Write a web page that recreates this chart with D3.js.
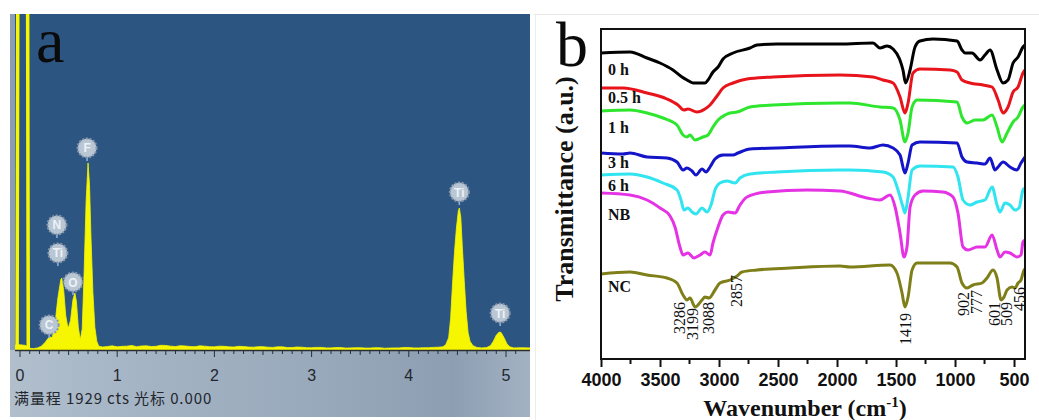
<!DOCTYPE html>
<html><head><meta charset="utf-8">
<script src="https://cdn.jsdelivr.net/npm/d3@7"></script>
<style>body{margin:0;background:#fff;}svg{display:block}</style>
</head><body>
<svg id="c" width="1039" height="420"></svg>
<script>
// ===== Panel a: EDS spectrum (keV, counts) =====
const edsTicks = [0, 1, 2, 3, 4, 5];
const edsFullScale = 1929;
const edsSpectrum = [
  [-0.05, 28], [0.0, 30], [0.06, 26], [0.10, 10], [0.14, 8], [0.18, 12], [0.22, 22], [0.26, 45], [0.29, 68],
  [0.31, 75], [0.33, 70], [0.36, 150], [0.39, 300], [0.42, 405], [0.43, 413], [0.45, 340],
  [0.47, 200], [0.49, 135], [0.50, 132], [0.52, 170], [0.545, 290], [0.565, 327], [0.58, 280],
  [0.60, 130], [0.62, 57], [0.64, 120], [0.66, 450], [0.68, 850], [0.70, 1074], [0.715, 950],
  [0.73, 650], [0.75, 330], [0.77, 130], [0.79, 50], [0.81, 22], [0.85, 17],
  [0.9, 20], [0.95, 24], [1.0, 18], [1.05, 21], [1.1, 22], [1.15, 26], [1.2, 19], [1.25, 23], [1.3, 24],
  [1.35, 20], [1.4, 21], [1.45, 27], [1.5, 26], [1.55, 22], [1.6, 20], [1.65, 25], [1.7, 23],
  [1.75, 20], [1.8, 19], [1.85, 24], [1.9, 22], [1.95, 19], [2.0, 18], [2.05, 22], [2.1, 21],
  [2.15, 18], [2.2, 17], [2.25, 21], [2.3, 20], [2.35, 17], [2.4, 16], [2.45, 19], [2.5, 19],
  [2.55, 16], [2.6, 15], [2.65, 18], [2.7, 18], [2.75, 14], [2.8, 14], [2.85, 17], [2.9, 16],
  [2.95, 13], [3.0, 13], [3.05, 15], [3.1, 15], [3.15, 12], [3.2, 12], [3.25, 14], [3.3, 14],
  [3.35, 11], [3.4, 12], [3.45, 13], [3.5, 13], [3.55, 11], [3.6, 11], [3.65, 13], [3.7, 13],
  [3.75, 10], [3.8, 11], [3.85, 12], [3.9, 12], [3.95, 14], [4.0, 14], [4.05, 12], [4.1, 12],
  [4.15, 13], [4.2, 13], [4.25, 15], [4.3, 16],
  [4.35, 18], [4.38, 30], [4.41, 70], [4.43, 180], [4.45, 380], [4.47, 560], [4.49, 700],
  [4.51, 800], [4.52, 815], [4.535, 760], [4.55, 600], [4.57, 400], [4.59, 220], [4.61, 100],
  [4.63, 50], [4.66, 25], [4.70, 15], [4.75, 12], [4.80, 14], [4.84, 25], [4.87, 50], [4.90, 85],
  [4.93, 103], [4.95, 100], [4.98, 70], [5.01, 35], [5.04, 18], [5.08, 12], [5.15, 13], [5.25, 12]
];
const edsZeroPeak = [[-0.03, 0], [-0.016, 4000], [0.072, 4000], [0.085, 0]];
const edsLabels = [
  { el: "C", e: 0.30, cts: 144 }, { el: "N", e: 0.38, cts: 718 }, { el: "Ti", e: 0.39, cts: 557 },
  { el: "O", e: 0.545, cts: 390 }, { el: "F", e: 0.69, cts: 1160 },
  { el: "Ti", e: 4.52, cts: 907 }, { el: "Ti", e: 4.94, cts: 212 }
];
const edsFooter = "满量程 1929 cts 光标 0.000";

// ===== Panel b: FTIR (wavenumber cm-1, transmittance a.u.) =====
const ftirTicks = [4000, 3500, 3000, 2500, 2000, 1500, 1000, 500];
const ftirNames = ["0 h", "0.5 h", "1 h", "3 h", "6 h", "NB", "NC"];
const ftir0h = [[4000,306],[3754,307],[3610,301],[3500,296],[3390,289],[3314,282],[3271,279],[3220,276],[3119,276],[3093,279],[3051,287],[3008,292],[2966,300],[2881,306],[2737,311],[2678,314],[2508,315],[1975,315],[1695,316],[1636,311],[1576,313],[1525,310],[1470,300],[1441,289],[1419,276],[1381,289],[1339,312],[1297,318],[1186,320],[983,318],[941,309],[915,306],[856,306],[788,299],[746,304],[703,309],[644,289],[593,276],[551,279],[508,296],[466,302],[424,312],[407,314]];
const ftir05h = [[4000,271],[3814,271],[3610,266],[3441,260],[3348,254],[3297,249],[3263,250],[3187,247],[3119,250],[3076,254],[3017,263],[2966,271],[2881,276],[2763,280],[2542,282],[1975,284],[1695,282],[1610,279],[1525,276],[1466,262],[1424,246],[1398,256],[1356,286],[1297,290],[1042,289],[983,287],[941,279],[873,276],[763,274],[686,272],[635,259],[593,246],[551,252],[508,267],[466,272],[424,286],[407,289]];
const ftir1h = [[4000,248],[3754,249],[3610,246],[3475,241],[3356,234],[3305,224],[3271,222],[3246,224],[3203,219],[3136,222],[3093,224],[3051,232],[3008,239],[2949,244],[2907,246],[2847,247],[2737,252],[2542,254],[1975,256],[1890,256],[1636,252],[1525,251],[1466,239],[1424,217],[1398,226],[1364,252],[1322,259],[983,257],[941,242],[898,236],[830,239],[763,239],[686,244],[644,232],[602,217],[559,226],[508,237],[466,242],[424,252],[407,254]];
const ftir3h = [[4000,206],[3814,205],[3754,206],[3610,202],[3441,201],[3356,197],[3305,189],[3271,191],[3229,188],[3195,184],[3144,190],[3110,187],[3076,192],[3034,200],[2966,204],[2881,204],[2839,206],[2737,210],[2508,211],[1975,213],[1890,213],[1720,211],[1610,214],[1525,211],[1466,204],[1424,186],[1398,196],[1364,214],[1297,217],[983,216],[941,202],[898,197],[813,196],[746,195],[703,201],[661,189],[635,192],[593,197],[534,192],[475,189],[441,196],[407,202]];
const ftir6h = [[4000,184],[3754,185],[3610,182],[3475,176],[3356,169],[3322,159],[3297,149],[3263,151],[3229,147],[3195,145],[3144,151],[3102,147],[3068,154],[3034,169],[2992,176],[2932,178],[2864,176],[2822,181],[2737,185],[2508,187],[1975,189],[1890,189],[1610,187],[1525,182],[1483,169],[1441,152],[1424,146],[1400,160],[1364,189],[1297,193],[1017,192],[975,182],[932,159],[873,154],[813,157],[746,159],[686,172],[644,154],[619,147],[576,156],[534,154],[492,149],[458,151],[424,169],[407,171]];
const ftirNB = [[4000,166],[3754,164],[3610,159],[3500,151],[3415,143],[3373,132],[3331,112],[3305,104],[3263,106],[3212,101],[3161,104],[3119,107],[3076,104],[3051,116],[3008,132],[2966,144],[2924,147],[2864,146],[2822,154],[2763,162],[2593,167],[2254,169],[1975,168],[1746,161],[1636,159],[1551,164],[1508,152],[1466,126],[1432,102],[1407,112],[1381,152],[1339,164],[1271,168],[1102,167],[1017,162],[975,146],[932,112],[890,109],[813,112],[746,112],[686,124],[644,109],[619,102],[576,107],[534,106],[475,102],[441,104],[424,117],[407,119]];
const ftirNC = [[4000,85],[3754,87],[3610,84],[3441,81],[3356,76],[3305,64],[3271,59],[3246,61],[3203,52],[3144,59],[3119,62],[3085,61],[3034,69],[2992,76],[2907,79],[2847,83],[2805,87],[2678,89],[2398,91],[1975,93],[1890,92],[1551,94],[1492,86],[1449,66],[1424,52],[1398,62],[1364,89],[1322,96],[1042,96],[983,92],[941,76],[898,71],[847,74],[771,76],[729,81],[678,89],[644,81],[610,59],[585,62],[559,69],[517,72],[492,71],[466,76],[441,79],[415,89],[407,90]];
const ftirSeries = [ftir0h, ftir05h, ftir1h, ftir3h, ftir6h, ftirNB, ftirNC];
const ftirPeaks = [3286, 3199, 3088, 2857, 1419, 902, 777, 601, 509, 456];

// ===== styles / layout =====
const ftirColors = ["#000000", "#e8141c", "#2ee62e", "#1414c8", "#30e4f0", "#e432e4", "#7f7f1a"];
const ftirLabelY = [75, 103, 133, 168, 191, 220, 292];
const peakDx = [-5, -3, 0, 1, 0, -3, -4, -7, -6, 1];
const peakTop = [302, 308, 302, 275, 313, 292, 290, 302, 302, 287];

const svg = d3.select("#c");
const defs = svg.append("defs");

// ---------- Panel a ----------
const A = { l: 15, r: 530, t: 14, b: 350 };
const xa = d3.scaleLinear().domain([0, 5]).range([20, 506]);
const ya = d3.scaleLinear().domain([0, edsFullScale]).range([A.b, A.t]);

const g1 = defs.append("linearGradient").attr("id", "strip").attr("x1", 0).attr("x2", 1).attr("y1", 0).attr("y2", 0);
[["0%", "#b1bfcd"], ["30%", "#a2b2c3"], ["60%", "#98a9bb"], ["85%", "#8d9eb2"], ["100%", "#a3b2c3"]]
  .forEach(s => g1.append("stop").attr("offset", s[0]).attr("stop-color", s[1]));
defs.append("clipPath").attr("id", "clipA").append("rect")
  .attr("x", A.l).attr("y", A.t).attr("width", A.r - A.l).attr("height", A.b - A.t);

svg.append("rect").attr("x", 10).attr("y", A.b).attr("width", A.r - 10).attr("height", 417 - A.b).attr("fill", "url(#strip)");
svg.append("rect").attr("x", 10).attr("y", A.t).attr("width", 5).attr("height", A.b - A.t).attr("fill", "#8b9db3");
svg.append("rect").attr("x", A.l).attr("y", A.t).attr("width", A.r - A.l).attr("height", A.b - A.t).attr("fill", "#2c5582");

const pa = svg.append("g").attr("clip-path", "url(#clipA)");
pa.append("path").datum(edsSpectrum)
  .attr("d", d3.area().x(d => xa(d[0])).y0(ya(0)).y1(d => ya(d[1])))
  .attr("fill", "#f6f600").attr("stroke", "#f6f600").attr("stroke-width", 0.8);
pa.append("path").datum(edsZeroPeak)
  .attr("d", d3.line().x(d => xa(d[0])).y(d => ya(d[1])))
  .attr("fill", "none").attr("stroke", "#f6f600").attr("stroke-width", 3.5);

// axis line and ticks
svg.append("line").attr("x1", A.l).attr("x2", A.r).attr("y1", A.b + 0.5).attr("y2", A.b + 0.5)
  .attr("stroke", "#2a2f36").attr("stroke-width", 1.5);
const minor = d3.range(0, 52).map(i => i / 10);
svg.append("g").selectAll("line").data(minor).join("line")
  .attr("x1", d => xa(d)).attr("x2", d => xa(d))
  .attr("y1", A.b).attr("y2", d => A.b + (Math.abs(d - Math.round(d)) < 1e-6 ? 7 : (Math.abs(d * 2 - Math.round(d * 2)) < 1e-6 ? 5 : 4)))
  .attr("stroke", "#2a2f36").attr("stroke-width", 1);
svg.append("g").selectAll("text").data(edsTicks).join("text")
  .attr("x", d => xa(d)).attr("y", 381).attr("text-anchor", "middle")
  .attr("font-family", "Liberation Sans, Arial, sans-serif").attr("font-size", 16).attr("fill", "#23272d")
  .text(d => d);
svg.append("text").attr("x", 14).attr("y", 404)
  .attr("font-family", "Noto Sans CJK SC, sans-serif").attr("font-size", 15).attr("fill", "#23272d")
  .attr("letter-spacing", 0.9).text(edsFooter);

// element labels
const lab = svg.append("g");
edsLabels.forEach(d => {
  const cx = xa(d.e), cy = ya(d.cts);
  lab.append("line").attr("x1", cx).attr("x2", cx).attr("y1", cy + 9).attr("y2", cy + 13)
    .attr("stroke", "#8fb4e6").attr("stroke-width", 1.5);
  lab.append("circle").attr("cx", cx).attr("cy", cy).attr("r", 9.5)
    .attr("fill", "#b9c6d4").attr("stroke", "#8797ab").attr("stroke-width", 2).attr("stroke-dasharray", "2,1.6");
  lab.append("text").attr("x", cx).attr("y", cy + 4.5).attr("text-anchor", "middle")
    .attr("font-family", "Liberation Sans, Arial, sans-serif").attr("font-size", 12).attr("font-weight", "bold")
    .attr("fill", "#eef2f7").text(d.el);
});
svg.append("text").attr("x", 36).attr("y", 62)
  .attr("font-family", "Liberation Serif, Times New Roman, serif").attr("font-size", 64).attr("fill", "#0a0a0a").text("a");

// separators
svg.append("line").attr("x1", 534).attr("x2", 1039).attr("y1", 14.5).attr("y2", 14.5).attr("stroke", "#e6e6e6");
svg.append("line").attr("x1", 535.5).attr("x2", 535.5).attr("y1", 14).attr("y2", 420).attr("stroke", "#ececec");

// ---------- Panel b ----------
const B = { l: 601, r: 1025, t: 29, b: 359 };
const xb = d3.scaleLinear().domain([4000, 407]).range([B.l, B.r]);
const yb = d3.scaleLinear().domain([0, 330]).range([B.b, B.t]);
defs.append("clipPath").attr("id", "clipB").append("rect")
  .attr("x", B.l).attr("y", B.t).attr("width", B.r - B.l).attr("height", B.b - B.t);

const line = d3.line().x(d => xb(d[0])).y(d => yb(d[1])).curve(d3.curveMonotoneX);
const pb = svg.append("g").attr("clip-path", "url(#clipB)");
ftirSeries.forEach((s, i) => {
  pb.append("path").datum(s).attr("d", line).attr("fill", "none")
    .attr("stroke", ftirColors[i]).attr("stroke-width", 3).attr("stroke-linejoin", "round");
});
svg.append("rect").attr("x", B.l).attr("y", B.t).attr("width", B.r - B.l).attr("height", B.b - B.t)
  .attr("fill", "none").attr("stroke", "#111").attr("stroke-width", 2);

const axisB = d3.axisBottom(xb).tickValues(ftirTicks).tickSize(8).tickFormat(d3.format("d"));
const ga = svg.append("g").attr("transform", `translate(0,${B.b})`).call(axisB);
ga.select(".domain").remove();
ga.selectAll(".tick line").attr("stroke", "#111").attr("stroke-width", 2);
ga.selectAll(".tick text").attr("y", 14).attr("dy", "0.71em")
  .attr("font-family", "Liberation Sans, Arial, sans-serif").attr("font-size", 18).attr("font-weight", "bold").attr("fill", "#111");
const minorB = d3.range(3750, 407, -500);
svg.append("g").selectAll("line").data(minorB).join("line")
  .attr("x1", d => xb(d)).attr("x2", d => xb(d)).attr("y1", B.b).attr("y2", B.b + 5)
  .attr("stroke", "#111").attr("stroke-width", 2);

// series names
svg.append("g").selectAll("text").data(ftirNames).join("text")
  .attr("x", 608).attr("y", (d, i) => ftirLabelY[i])
  .attr("font-family", "Liberation Serif, Times New Roman, serif").attr("font-size", 16).attr("font-weight", "bold")
  .attr("fill", "#111").text(d => d);

// peak labels
svg.append("g").selectAll("text").data(ftirPeaks).join("text")
  .attr("transform", (d, i) => `translate(${xb(d) + peakDx[i] + 5},${peakTop[i]}) rotate(-90)`)
  .attr("text-anchor", "end")
  .attr("font-family", "Liberation Serif, Times New Roman, serif").attr("font-size", 16).attr("fill", "#111")
  .text(d => d);

// titles
const xt = svg.append("text").attr("x", 805).attr("y", 416).attr("text-anchor", "middle")
  .attr("font-family", "Liberation Serif, Times New Roman, serif").attr("font-size", 24).attr("font-weight", "bold").attr("fill", "#111");
xt.append("tspan").text("Wavenumber (cm");
xt.append("tspan").attr("dy", -9).attr("font-size", 15).text("-1");
xt.append("tspan").attr("dy", 9).text(")");
svg.append("text").attr("transform", "translate(573,189) rotate(-90)").attr("text-anchor", "middle")
  .attr("font-family", "Liberation Serif, Times New Roman, serif").attr("font-size", 26).attr("font-weight", "bold")
  .attr("fill", "#111").text("Transmittance (a.u.)");
svg.append("text").attr("x", 556).attr("y", 66)
  .attr("font-family", "Liberation Serif, Times New Roman, serif").attr("font-size", 64).attr("fill", "#0a0a0a").text("b");
</script>
</body></html>
